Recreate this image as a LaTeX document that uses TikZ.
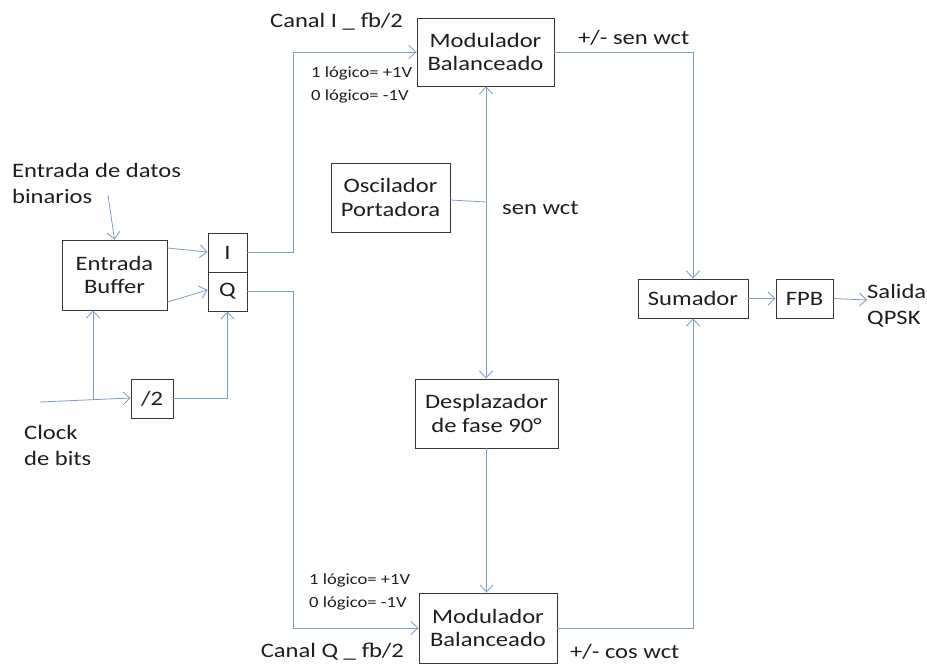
\documentclass[tikz,border=0pt]{standalone}
\usepackage{fontspec}
\setmainfont{Carlito}[FakeStretch=1.2]
\usepackage{tikz}
\usetikzlibrary{arrows.meta}

\definecolor{linea}{RGB}{125,155,195}
\definecolor{borde}{RGB}{55,55,55}
\definecolor{texto}{RGB}{30,30,30}

\begin{document}
\begin{tikzpicture}[x=1pt, y=-1pt,
		bloque/.style={draw=borde, rectangle, line width=0.9pt, text=texto, align=center, inner sep=0pt, font=\fontsize{20.5}{23.5}\selectfont},
		etiq/.style={text=texto, align=left, inner sep=0pt, font=\fontsize{20.5}{26}\selectfont},
		chica/.style={text=texto, align=left, inner sep=0pt, font=\fontsize{15.5}{23}\selectfont},
		flecha/.style={draw=linea, line width=0.8pt, -{Straight Barb[length=7pt, width=13pt, line width=0.8pt]}},
		linea/.style={draw=linea, line width=0.8pt}]
			\useasboundingbox (0,0) rectangle (927,667);
			
			\node[bloque, minimum width=105pt, minimum height=70pt] (buf) at (114.5,275) {Entrada\\Buffer};
			\node[bloque, minimum width=39pt, minimum height=39pt] (bI) at (227.5,252.5) {I};
			\node[bloque, minimum width=39pt, minimum height=39pt] (bQ) at (227.5,291.5) {Q};
			\node[bloque, minimum width=42pt, minimum height=39pt] (div) at (152,398.5) {/2};
			
			\node[bloque, minimum width=137pt, minimum height=68pt] (modI) at (485.5,52) {Modulador\\Balanceado};
			\node[bloque, minimum width=119pt, minimum height=69pt] (osc) at (390.5,197.5) {Oscilador\\Portadora};
			\node[bloque, minimum width=143pt, minimum height=69pt] (desp) at (486.5,413.5) {Desplazador\\de fase 90°};
			\node[bloque, minimum width=138pt, minimum height=70pt] (modQ) at (488,628) {Modulador\\Balanceado};
			\node[bloque, minimum width=110pt, minimum height=39pt] (sum) at (693,298.5) {Sumador};
			\node[bloque, minimum width=57pt, minimum height=39pt] (fpb) at (804.5,298.5) {FPB};
			
			\node[etiq, anchor=west] (datos) at (12,183) {Entrada de datos\\binarios};
			\node[etiq, anchor=west] (clock) at (24,445) {Clock\\de bits};
			\node[etiq, anchor=west] (salida) at (867,306) {Salida\\QPSK};
			\node[etiq, anchor=east] (canalI) at (403,22) {Canal I \_ fb/2};
			\node[etiq, anchor=east] (canalQ) at (404,652) {Canal Q \_ fb/2};
			\node[etiq, anchor=west] (senI) at (578,38) {+/- sen wct};
			\node[etiq, anchor=west] (cosQ) at (570,652) {+/- cos wct};
			\node[etiq, anchor=west] (sen) at (502,208) {sen wct};
			\node[chica, anchor=west] (logI) at (311,84.5) {1 lógico= +1V\\0 lógico= -1V};
			\node[chica, anchor=west] (logQ) at (309,591.5) {1 lógico= +1V\\0 lógico= -1V};
			
			\coordinate (ent) at (108,195);
			\coordinate (clk) at (40,402);
			\coordinate (nudo) at (93,399.5);
			\coordinate (sal) at (867,300);
			\coordinate (unio) at (486,202);
			
			% entrada y reloj
			\draw[flecha] (ent) -- (buf.north);
			\draw[flecha] (buf.east |- 0,248) -- (bI.west |- 0,252);
			\draw[flecha] (buf.east |- 0,302) -- (bQ.west |- 0,290);
			\draw[flecha] (clk) -- (div.west |- 0,398);
			\draw[flecha] (nudo) -- (nudo |- buf.south);
			\draw[flecha] (div.east) -| (bQ.south);
			
			% canales
			\draw[flecha] (bI.east) -- (293,252.5) |- (modI.west);
			\draw[flecha] (bQ.east) -- (293,291.5) |- (modQ.west);
			
			% portadora
			\draw[linea] (osc.east |- 0,200) -- (unio);
			\draw[flecha] (unio) -- (unio |- modI.south);
			\draw[flecha] (unio) -- (unio |- desp.north);
			\draw[flecha] (desp.south) -- (desp.south |- modQ.north);
			
			% suma y salida
			\draw[flecha] (modI.east) -| (sum.north);
			\draw[flecha] (modQ.east) -| (sum.south);
			\draw[flecha] (sum.east) -- (fpb.west);
			\draw[flecha] (fpb.east) -- (sal);
		\end{tikzpicture}
\end{document}
